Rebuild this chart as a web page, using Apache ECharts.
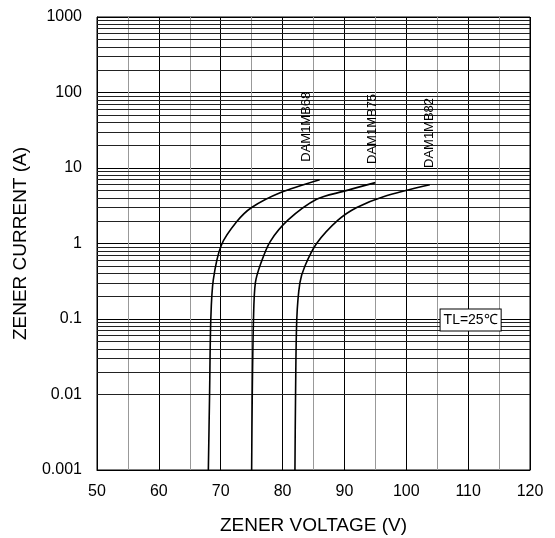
<!DOCTYPE html>
<html>
<head>
<meta charset="utf-8">
<script src="https://cdn.jsdelivr.net/npm/echarts@6/dist/echarts.min.js"></script>
<style>html,body{margin:0;padding:0;background:#fff;}#c{width:555px;height:538px;}</style>
</head>
<body>
<div id="c"></div>
<script>
// Data: [voltage (V), current (A)]
const curveNames = ['DAM1MB68', 'DAM1MB75', 'DAM1MB82'];
const curve68 = [[68.0,0.001],[68.2,0.01],[68.4,0.1],[68.8,0.33],[70.1,0.95],[72.6,1.95],[75.0,3.0],[79.6,4.7],[86.0,7.0]];
const curve75 = [[75.0,0.001],[75.1,0.01],[75.3,0.1],[75.6,0.3],[76.5,0.55],[78.0,1.06],[80.9,2.05],[85.5,3.85],[89.8,4.9],[95.0,6.4]];
const curve82 = [[82.0,0.001],[82.1,0.01],[82.3,0.1],[82.8,0.3],[83.6,0.5],[85.5,1.0],[89.0,2.05],[92.0,3.0],[96.3,4.17],[103.8,6.0]];
// label anchor (bottom of rotated text) in data coords
const labelAnchors = [[83.9,12.1],[94.6,11.3],[103.7,10.0]];
const noteText = 'TL=25℃';
const noteAnchor = [110.4,0.097];
const yDecades = [0.001,0.01,0.1,1,10,100];
const yMinorMult = [2,3,4,5,6,7,8,9];

const minorVals = [];
yDecades.forEach(d => yMinorMult.forEach(m => minorVals.push(+(d*m).toPrecision(3))));

const chart = echarts.init(document.getElementById('c'));
const FONT = 'Liberation Sans, Arial, sans-serif';
const lineSeries = (name, data) => ({
  name, type: 'line', data, showSymbol: false, smooth: 0.3,
  lineStyle: {color: '#000', width: 1.6}, z: 5, silent: true
});
chart.setOption({
  animation: false,
  backgroundColor: '#fff',
  grid: {left: 97, right: 25, top: 17, bottom: 68, show: true, borderColor: '#000', borderWidth: 1,
    containLabel: false, outerBoundsMode: 'none'},
  xAxis: {
    type: 'value', min: 50, max: 120, interval: 10,
    name: 'ZENER VOLTAGE (V)', nameLocation: 'middle', nameGap: 46,
    nameTextStyle: {fontSize: 19, color: '#000', fontFamily: FONT},
    axisLine: {lineStyle: {color: '#000'}},
    axisTick: {show: false},
    axisLabel: {fontSize: 16, color: '#000', fontFamily: FONT, margin: 14},
    splitLine: {show: true, lineStyle: {color: '#000', width: 1}},
    minorTick: {show: false, splitNumber: 2},
    minorSplitLine: {show: true, lineStyle: {color: '#999', width: 1}}
  },
  yAxis: {
    type: 'log', logBase: 10, min: 0.001, max: 1000,
    name: 'ZENER CURRENT (A)', nameLocation: 'middle', nameGap: 67,
    nameTextStyle: {fontSize: 19, color: '#000', fontFamily: FONT},
    axisLine: {lineStyle: {color: '#000'}},
    axisTick: {show: false},
    axisLabel: {fontSize: 16, color: '#000', fontFamily: FONT, margin: 15,
      formatter: v => String(+v.toPrecision(3))},
    splitLine: {show: true, lineStyle: {color: '#000', width: 1}}
  },
  series: [
    Object.assign(lineSeries(curveNames[0], curve68), {
      markLine: {
        silent: true, symbol: ['none','none'], label: {show: false},
        lineStyle: {color: '#222', width: 1, type: 'solid'},
        data: minorVals.map(v => ({yAxis: v}))
      }
    }),
    lineSeries(curveNames[1], curve75),
    lineSeries(curveNames[2], curve82)
  ]
});

const graphics = curveNames.map((n, i) => {
  const p = chart.convertToPixel({gridIndex: 0}, labelAnchors[i]);
  return {
    type: 'text', x: p[0], y: p[1], rotation: Math.PI / 2, z: 10,
    style: {text: n, fontSize: 13, fontFamily: FONT, fill: '#000', align: 'left', verticalAlign: 'middle'}
  };
});
const np = chart.convertToPixel({gridIndex: 0}, noteAnchor);
graphics.push({
  type: 'text', x: np[0], y: np[1], z: 10,
  style: {text: noteText, fontSize: 14, fontFamily: FONT, fill: '#000', align: 'center', verticalAlign: 'middle',
    backgroundColor: '#fff', borderColor: '#000', borderWidth: 1, padding: [4, 3, 3, 3]}
});
chart.setOption({graphic: graphics});
</script>
</body>
</html>
